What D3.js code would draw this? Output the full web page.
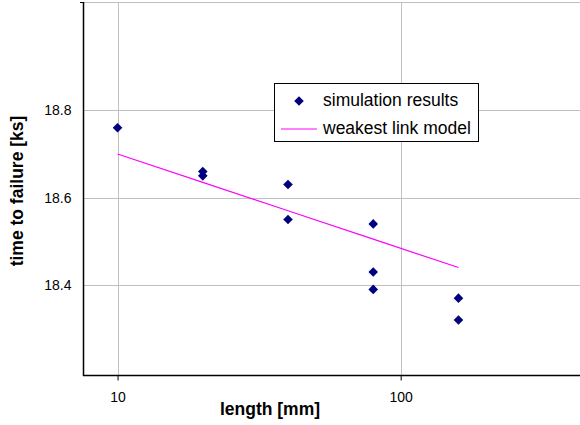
<!DOCTYPE html>
<html>
<head>
<meta charset="utf-8">
<script src="https://cdn.jsdelivr.net/npm/d3@7"></script>
<style>
  body { margin: 0; background: #fff; }
  svg { display: block; font-family: "Liberation Sans", Arial, sans-serif; }
</style>
</head>
<body>
<svg id="chart" width="580" height="425"></svg>
<script>
// simulation results (length in mm, time to failure in ks)
const simLength = [10, 20, 20, 40, 40, 80, 80, 80, 160, 160];
const simTime = [18.76, 18.66, 18.65, 18.63, 18.55, 18.54, 18.43, 18.39, 18.37, 18.32];

// weakest link model curve
const modelLength = [10, 20, 40, 80, 160];
const modelTime = [18.70, 18.635, 18.57, 18.505, 18.44];

const xTicks = [10, 100];
const yTicks = [18.4, 18.6, 18.8];

const plot = { left: 83, right: 580, top: 2, bottom: 375 };

const svg = d3.select('#chart');

const x = d3.scaleLog().domain([7.55, 430]).range([plot.left, plot.right]);
const y = d3.scaleLinear().domain([18.194, 19.048]).range([plot.bottom, plot.top]);

// gridlines
const grid = svg.append('g').attr('stroke', '#c0c0c0').attr('stroke-width', 1);
grid.selectAll('.gy')
  .data(yTicks.concat([y.domain()[1]]))
  .join('line')
  .attr('x1', plot.left).attr('x2', plot.right)
  .attr('y1', d => Math.round(y(d)) + 0.5)
  .attr('y2', d => Math.round(y(d)) + 0.5);
grid.selectAll('.gx')
  .data(xTicks)
  .join('line')
  .attr('y1', plot.top).attr('y2', plot.bottom)
  .attr('x1', d => Math.round(x(d)) + 0.5)
  .attr('x2', d => Math.round(x(d)) + 0.5);

// axes
const yAxis = svg.append('g')
  .attr('transform', `translate(${plot.left + 0.5},0)`)
  .call(d3.axisLeft(y).tickValues(yTicks).tickSize(0).tickPadding(12)
    .tickFormat(d3.format('.1f')));
yAxis.select('.domain').remove();
yAxis.selectAll('text').attr('font-size', 14).attr('fill', '#000')
  .attr('font-family', '"Liberation Sans", Arial, sans-serif');

const xAxis = svg.append('g')
  .attr('transform', `translate(0,${plot.bottom + 0.5})`)
  .call(d3.axisBottom(x).tickValues(xTicks).tickSizeInner(5).tickSizeOuter(0)
    .tickPadding(12).tickFormat(d3.format('d')));
xAxis.select('.domain').remove();
xAxis.selectAll('line').attr('stroke', '#000');
xAxis.selectAll('text').attr('font-size', 14).attr('fill', '#000')
  .attr('font-family', '"Liberation Sans", Arial, sans-serif');

// axis lines
svg.append('line')
  .attr('x1', plot.left + 0.5).attr('x2', plot.left + 0.5)
  .attr('y1', plot.top).attr('y2', plot.bottom + 1)
  .attr('stroke', '#000').attr('stroke-width', 1.5);
svg.append('line')
  .attr('x1', plot.left - 3).attr('x2', plot.left)
  .attr('y1', plot.top + 0.5).attr('y2', plot.top + 0.5)
  .attr('stroke', '#000');
svg.append('line')
  .attr('x1', plot.left).attr('x2', plot.right)
  .attr('y1', plot.bottom + 0.5).attr('y2', plot.bottom + 0.5)
  .attr('stroke', '#000').attr('stroke-width', 1.5);

// model line
const line = d3.line()
  .x((d, i) => x(modelLength[i]))
  .y(d => y(d));
svg.append('path')
  .attr('d', line(modelTime))
  .attr('fill', 'none')
  .attr('stroke', '#ff00ff')
  .attr('stroke-width', 1.2);

// simulation markers (square turned 45 degrees)
const diamond = d3.symbol().type(d3.symbolSquare).size(46);
svg.selectAll('.pt')
  .data(simTime)
  .join('path')
  .attr('d', diamond)
  .attr('transform', (d, i) => `translate(${x(simLength[i])},${y(d)}) rotate(45)`)
  .attr('fill', '#000080');

// axis titles
svg.append('text')
  .attr('x', 270).attr('y', 415)
  .attr('text-anchor', 'middle')
  .attr('font-weight', 'bold').attr('font-size', 17.5)
  .text('length [mm]');
svg.append('text')
  .attr('transform', 'translate(23,191) rotate(-90)')
  .attr('text-anchor', 'middle')
  .attr('font-weight', 'bold').attr('font-size', 17.5)
  .text('time to failure [ks]');

// legend
const legend = svg.append('g');
legend.append('rect')
  .attr('x', 274.5).attr('y', 83.5).attr('width', 204).attr('height', 58)
  .attr('fill', '#fff').attr('stroke', '#000');
legend.append('path')
  .attr('d', diamond)
  .attr('transform', 'translate(299,101) rotate(45)')
  .attr('fill', '#000080');
legend.append('line')
  .attr('x1', 281).attr('x2', 317).attr('y1', 129).attr('y2', 129)
  .attr('stroke', '#ff00ff').attr('stroke-width', 1.2);
legend.append('text')
  .attr('x', 323).attr('y', 106).attr('font-size', 17.5)
  .text('simulation results');
legend.append('text')
  .attr('x', 323).attr('y', 134).attr('font-size', 17.5)
  .text('weakest link model');
</script>
</body>
</html>
